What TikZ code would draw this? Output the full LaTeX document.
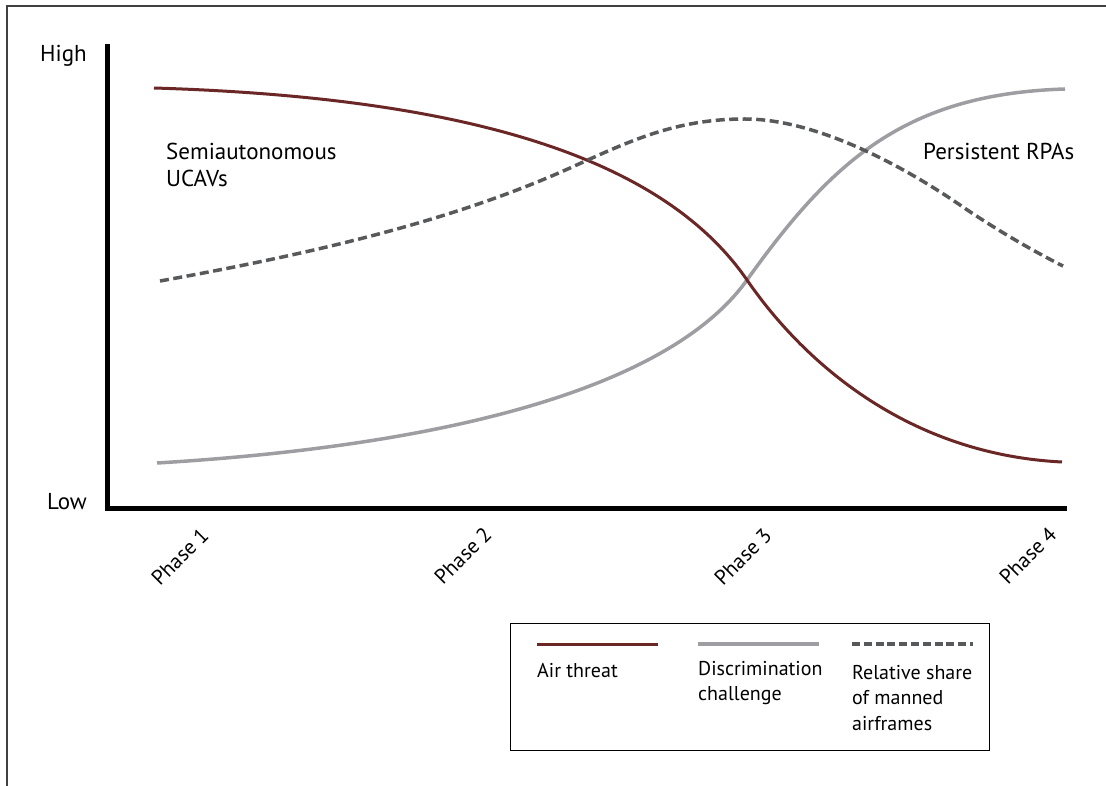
\documentclass[tikz,border=0pt]{standalone}
\usepackage{fontspec}
\setmainfont{PT Sans}
\definecolor{airc}{RGB}{107,38,38}
\definecolor{discc}{RGB}{158,158,162}
\definecolor{sharec}{RGB}{88,89,91}
\begin{document}
\begin{tikzpicture}[x=1pt,y=-1pt,
  air/.style={draw=airc, line width=3pt},
  disc/.style={draw=discc, line width=3.5pt},
  share/.style={draw=sharec, line width=3.5pt, dash pattern=on 9pt off 4.5pt},
  lbl/.style={font=\fontsize{20}{25}\selectfont, inner sep=0pt, align=left},
  big/.style={lbl, font=\fontsize{23}{27}\selectfont},
  phase/.style={lbl, font=\fontsize{21}{25}\selectfont, anchor=base east, rotate=45},
  axisline/.style={draw=black, line width=5pt},
  frameline/.style={draw=black!75, line width=1.5pt}]
\useasboundingbox (0,0) rectangle (1106,786);
% frame
\draw[frameline] (7,786) -- (7,6) -- (1106,6);
% axes
\coordinate (ytop) at (107,44);
\coordinate (orig) at (107,508.5);
\coordinate (xend) at (1067,508.5);
\draw[axisline, line join=miter] (ytop) -- (orig) -- (xend);
% axis labels
\node[big, anchor=base west] (high) at (40,62) {High};
\node[big, anchor=base west] (low) at (47,509) {Low};
\node[phase] (p1) at (210,537) {Phase 1};
\node[phase] (p2) at (493,536) {Phase 2};
\node[phase] (p3) at (773,537) {Phase 3};
\node[phase] (p4) at (1058,536) {Phase 4};
% annotations
\node[big, anchor=base west] (semi) at (166,187) {Semiautonomous\\UCAVs};
\node[big, anchor=base west] (rpa) at (923,160) {Persistent RPAs};
% curves
\coordinate (cross) at (747,280);
\draw[disc] (157,463) .. controls (457,445) and (672,385) .. (cross)
  .. controls (832,161) and (905,94) .. (1065,89);
\draw[air] (154,88) .. controls (484,98) and (667,164) .. (cross)
  .. controls (807,367) and (912,454.5) .. (1062,462);
\draw[share] (160,281) .. controls (310,254) and (450,222) .. (570,168)
  .. controls (630,141) and (675,119) .. (745,119)
  .. controls (815,119) and (900,164) .. (960,205)
  .. controls (995,229) and (1033,251) .. (1063,266);
% legend
\node[draw=black, line width=1.3pt, minimum width=479pt, minimum height=127pt, anchor=north west, inner sep=0pt] (legend) at (510,623) {};
\coordinate (la1) at (537,644); \coordinate (la2) at (658,644);
\coordinate (lb1) at (698,644); \coordinate (lb2) at (819,644);
\coordinate (lc1) at (852,644); \coordinate (lc2) at (973,644);
\draw[air] (la1) -- (la2);
\draw[disc] (lb1) -- (lb2);
\draw[share, dash pattern=on 8pt off 3.8pt] (lc1) -- (lc2);
\node[lbl, anchor=base west] (ta) at (537,677) {Air threat};
\node[lbl, anchor=base west] (tb) at (698,700) {Discrimination\\challenge};
\node[lbl, anchor=base west, font=\fontsize{20}{25.5}\selectfont] (tc) at (852,730) {Relative share\\of manned\\airframes};
\end{tikzpicture}
\end{document}
